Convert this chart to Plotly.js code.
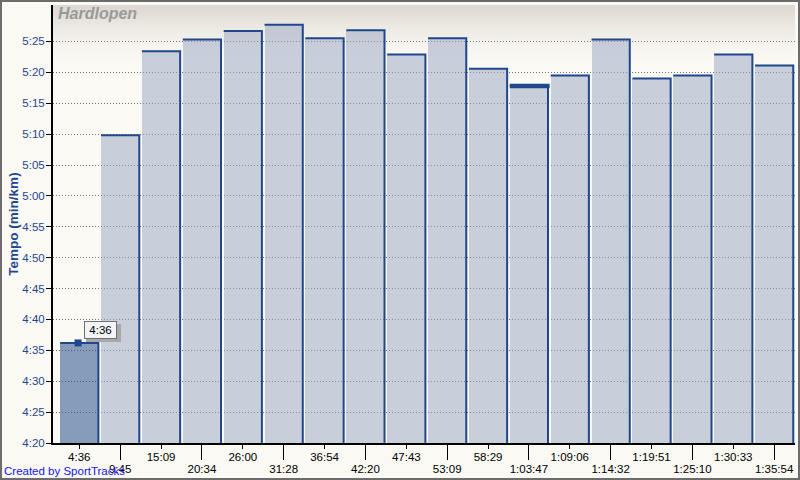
<!DOCTYPE html>
<html>
<head>
<meta charset="utf-8">
<script src="https://cdn.plot.ly/plotly-3.0.1.min.js"></script>
<style>
  html, body { margin: 0; padding: 0; }
  body { width: 800px; height: 480px; position: relative; background: #FAF9F4; overflow: hidden; }
  #frame { position: absolute; left: 0; top: 0; width: 800px; height: 480px; box-sizing: border-box; border: 2px solid #6C6C6C; }
  #grad { position: absolute; left: 53px; top: 5px; width: 742px; height: 438px;
          background: linear-gradient(to bottom, #DCD7D0 0px, #ECE9E3 22px, #F7F5F0 42px, #FAF9F4 58px, #FAF9F4 100%); }
  #chart { position: absolute; left: 0; top: 0; width: 800px; height: 480px; }
</style>
</head>
<body>
<div id="frame"></div>
<div id="grad"></div>
<div id="chart"></div>
<script>
// Lap end times (cumulative) used as x tick labels
const lapLabels = ['4:36','9:45','15:09','20:34','26:00','31:28','36:54','42:20','47:43',
                   '53:09','58:29','1:03:47','1:09:06','1:14:32','1:19:51','1:25:10','1:30:33','1:35:54'];
// Pace per lap in seconds per km
const paceSec = [276.2, 309.8, 323.4, 325.3, 326.7, 327.7, 325.5, 326.8, 322.9,
                 325.5, 320.6, 317.8, 319.5, 325.3, 319.0, 319.5, 322.9, 321.1];
// Y axis ticks (pace, min:sec)
const yTickVals = [260, 265, 270, 275, 280, 285, 290, 295, 300, 305, 310, 315, 320, 325];
const yTickText = ['4:20','4:25','4:30','4:35','4:40','4:45','4:50','4:55','5:00','5:05','5:10','5:15','5:20','5:25'];
const selectedLap = 0;      // highlighted lap (tooltip)
const markedLap = 11;       // lap with heavy marker on top
const baseline = 260;

const idx = lapLabels.map((_, i) => i);
const W = 0.935;
const FONT = 'Liberation Sans, Arial, sans-serif';
const DARK = '#1F478C';

const fills = idx.map(i => i === selectedLap ? 'rgba(40,80,140,0.55)' : 'rgba(160,172,199,0.55)');

// top + right edge outlines
const ex = [], ey = [];
idx.forEach(i => {
  ex.push(i - W/2, i + W/2, i + W/2, null);
  ey.push(paceSec[i], paceSec[i], baseline, null);
});

const evenIdx = idx.filter(i => i % 2 === 0);
const oddIdx = idx.filter(i => i % 2 === 1);

const traces = [
  { type: 'bar', x: idx, y: paceSec.map(v => v - baseline), base: baseline, width: W,
    marker: { color: fills, line: { width: 0 } }, hoverinfo: 'skip', showlegend: false },
  { type: 'scatter', mode: 'lines', x: ex, y: ey, connectgaps: false,
    line: { color: DARK, width: 2 }, hoverinfo: 'skip', showlegend: false },
  { type: 'scatter', mode: 'lines', x: [markedLap - W/2, markedLap + W/2 + 0.04], y: [paceSec[markedLap], paceSec[markedLap]],
    line: { color: DARK, width: 4.5 }, hoverinfo: 'skip', showlegend: false },
  { type: 'scatter', mode: 'markers', xaxis: 'x2', x: [selectedLap - 0.03], y: [paceSec[selectedLap]],
    marker: { symbol: 'square', size: 7, color: DARK }, hoverinfo: 'skip', showlegend: false }
];

const xRange = [-0.643, 17.51];
const tickFont = { family: FONT, size: 11.5, color: '#000000' };

const layout = {
  width: 800, height: 480,
  margin: { l: 53, r: 5, t: 5, b: 37 },
  paper_bgcolor: 'rgba(0,0,0,0)', plot_bgcolor: 'rgba(0,0,0,0)',
  showlegend: false,
  bargap: 0,
  xaxis: {
    range: xRange, tickmode: 'array', tickvals: evenIdx, ticktext: evenIdx.map(i => lapLabels[i]),
    ticks: 'outside', ticklen: 4, tickwidth: 1, tickcolor: '#000', ticklabelstandoff: -2,
    showline: true, linecolor: '#000', linewidth: 2, showgrid: false, zeroline: false,
    tickfont: tickFont, fixedrange: true, automargin: false
  },
  xaxis2: {
    overlaying: 'x', anchor: 'y', side: 'bottom',
    range: xRange, tickmode: 'array', tickvals: oddIdx, ticktext: oddIdx.map(i => lapLabels[i]),
    ticks: 'outside', ticklen: 16, tickwidth: 1, tickcolor: '#000', ticklabelstandoff: -1,
    showline: false, showgrid: false, zeroline: false,
    tickfont: tickFont, fixedrange: true, automargin: false
  },
  yaxis: {
    range: [260, 330.9], tickmode: 'array', tickvals: yTickVals, ticktext: yTickText,
    ticks: 'outside', ticklen: 5, tickwidth: 1, tickcolor: '#000', ticklabelstandoff: -1,
    showline: true, linecolor: '#000', linewidth: 2,
    showgrid: true, gridcolor: '#707070', gridwidth: 1, griddash: '1px,2px', zeroline: false,
    tickfont: { family: FONT, size: 11.5, color: DARK },
    title: { text: 'Tempo (min/km)', font: { family: FONT, size: 13.5, color: DARK, weight: 'bold' }, standoff: 1 },
    fixedrange: true, automargin: false
  },
  annotations: [
    { xref: 'paper', yref: 'paper', x: 0, y: 1, xanchor: 'left', yanchor: 'top', xshift: 3, yshift: 2,
      text: '<b><i>Hardlopen</i></b>', showarrow: false,
      font: { family: FONT, size: 16, color: '#9A9A9A' } },
    { xref: 'x', yref: 'y', x: selectedLap, y: paceSec[selectedLap], xshift: 24, yshift: 10,
      text: '\u2007\u2008\u2007\u2007', showarrow: false, bgcolor: '#A8A8A8', borderwidth: 0, borderpad: 2,
      width: 31, height: 14,
      font: { family: FONT, size: 11.5, color: 'rgba(0,0,0,0)' } },
    { xref: 'x', yref: 'y', x: selectedLap, y: paceSec[selectedLap], xshift: 21, yshift: 13,
      text: lapLabels[selectedLap], showarrow: false, bgcolor: '#F2F5F8', bordercolor: '#707070', borderwidth: 1, borderpad: 2,
      width: 27, height: 12,
      font: { family: FONT, size: 11.5, color: '#000' } },
    { xref: 'paper', yref: 'paper', x: 0, y: 0, xanchor: 'left', yanchor: 'bottom', xshift: -51, yshift: -36,
      text: 'Created by SportTracks', showarrow: false,
      font: { family: FONT, size: 11.5, color: '#1515E8' } }
  ]
};

Plotly.newPlot('chart', traces, layout, { staticPlot: true, displayModeBar: false });
</script>
</body>
</html>
